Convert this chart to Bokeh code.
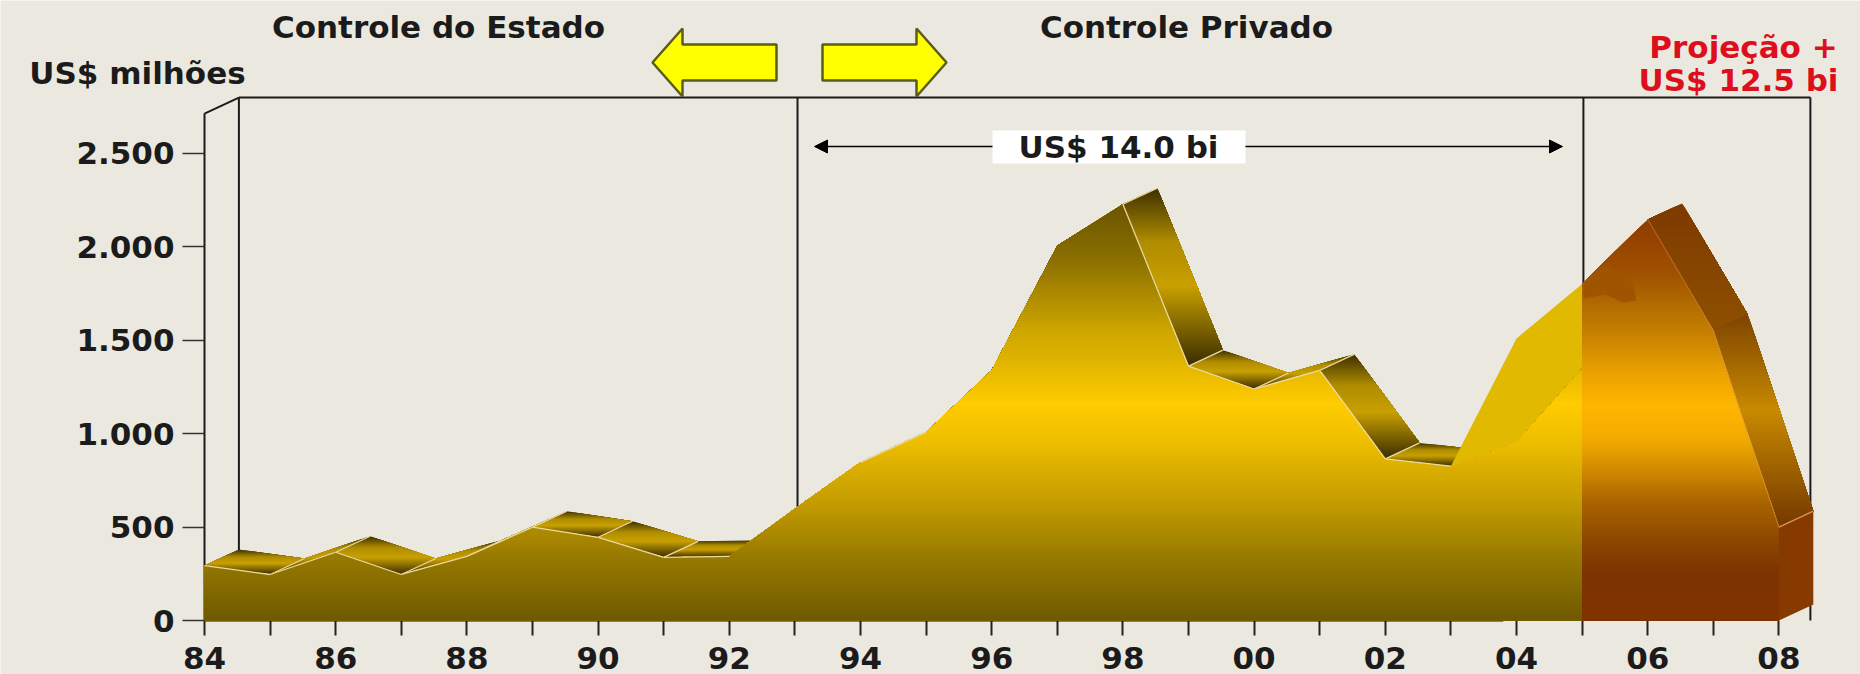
import numpy as np
from bokeh.core.properties import value
from bokeh.embed import file_html
from bokeh.models import Arrow, ColumnDataSource, FixedTicker, NormalHead
from bokeh.plotting import figure
from bokeh.resources import INLINE

# Investment series, US$ millions
state_years = list(range(1984, 2006))
state_values = [294, 246, 365, 246, 343, 499, 445, 338, 343, 597, 846, 1007,
                1338, 2004, 2226, 1360, 1238, 1338, 864, 825, 950, 1347]
upper_years = [2003, 2004, 2005]
upper_values = [825, 1508, 1800]
projection_years = [2005, 2006, 2007, 2008]
projection_values = [1800, 2145, 1551, 499]

y_ticks = [0, 500, 1000, 1500, 2000, 2500]
y_tick_labels = ["0", "500", "1.000", "1.500", "2.000", "2.500"]
x_major_ticks = list(range(1984, 2009, 2))
x_minor_ticks = list(range(1985, 2009, 2))
x_tick_labels = ["84", "86", "88", "90", "92", "94", "96", "98", "00", "02", "04", "06", "08"]
divider_years = [1993.04, 2005.02, 2008.48]

# Pixel scale of the plot area and the extrusion of the 3D ribbon
PX_YEAR, PX_VALUE = 65.6, 0.187
LEFT_PX, BASE_PX = 204, 620
WIDTH, HEIGHT = 1860, 674
DEPTH_X, DEPTH_Y = 34.4 / PX_YEAR, 16 / PX_VALUE
AXIS_TOP = 2711


def xd(px):
    return 1984 + (px - LEFT_PX) / PX_YEAR


def yd(py):
    return (BASE_PX - py) / PX_VALUE


BG = "#ebe9df"
INK = "#1b1b1b"
FONT = "DejaVu Sans"
PALE = "#ead9a0"
PALE_BROWN = "#dc9550"

GOLD_STOPS = ([0, 360, 630, 980, 1157, 1444, 1535, 1925, 2230],
              ["#6f5900", "#9a7c00", "#c49c00", "#f0c000", "#ffcc00", "#d8ae00",
               "#d0a800", "#8c7000", "#6a5400"])
BROWN_STOPS = ([0, 267, 445, 625, 802, 980, 1155, 1337, 1497, 1711, 1855, 2040, 2240],
               ["#7e3300", "#7e3400", "#8e4a00", "#a86200", "#d08a00", "#f4ac00",
                "#ffb400", "#e8a000", "#cc8600", "#ae6800", "#9f5200", "#964200", "#843900"])
FACE_STOPS = ([0, 0.3, 0.55, 1], ["#3e3000", "#b08c00", "#c8a000", "#3a2c00"])
BROWN_FACE_A = ([0, 1], ["#7e3a00", "#8e5000"])
BROWN_FACE_B = ([0, 0.45, 1], ["#7e4400", "#c88a00", "#743800"])


def mix(stops, t):
    pos, cols = stops
    rgb = np.array([[int(c[i:i + 2], 16) for i in (1, 3, 5)] for c in cols], float)
    return "#%02x%02x%02x" % tuple(int(round(np.interp(t, pos, rgb[:, k]))) for k in range(3))


def clip_under(xs, ys, limit):
    """Keep the part of a polygon that lies at or under a given value."""
    out_x, out_y = [], []
    n = len(xs)
    for i in range(n):
        x0, y0, x1, y1 = xs[i], ys[i], xs[(i + 1) % n], ys[(i + 1) % n]
        if y0 <= limit:
            out_x.append(x0)
            out_y.append(y0)
        if (y0 <= limit) != (y1 <= limit):
            f = (limit - y0) / (y1 - y0)
            out_x.append(x0 + f * (x1 - x0))
            out_y.append(limit)
    return out_x, out_y


def shaded(xs, ys, stops, relative=False, step=None):
    """Stack clipped copies of a polygon, top level first, so the fill grades with height."""
    top, bottom = max(ys), min(ys)
    span = top - bottom
    if span <= 0:
        return [], [], []
    count = max(int(span / (step or 16)), 6)
    lx, ly, lc = [], [], []
    for k in range(count):
        upper = top - span * k / count
        mid = top - span * (k + 0.5) / count
        cx, cy = clip_under(xs, ys, upper)
        if len(cx) < 3:
            continue
        lx.append(cx)
        ly.append(cy)
        lc.append(mix(stops, (top - mid) / span if relative else mid))
    return lx, ly, lc


def ribbon_quad(x0, v0, x1, v1):
    return ([x0, x1, x1 + DEPTH_X, x0 + DEPTH_X], [v0, v1, v1 + DEPTH_Y, v0 + DEPTH_Y])


p = figure(width=WIDTH, height=HEIGHT, output_backend="svg", toolbar_location=None,
           x_range=(xd(0), xd(WIDTH)), y_range=(yd(HEIGHT), yd(0)), min_border=0,
           background_fill_color=BG, border_fill_color=BG, outline_line_color=None)
p.grid.visible = False

# Axes sit inside the full-bleed frame, below the filled areas
yaxis = p.yaxis[0]
yaxis.fixed_location = 1984
yaxis.level = "underlay"
yaxis.bounds = (0, AXIS_TOP)
yaxis.ticker = FixedTicker(ticks=y_ticks)
yaxis.major_label_overrides = dict(zip(y_ticks, y_tick_labels))
yaxis.major_tick_out = 22
yaxis.major_tick_in = 0
yaxis.minor_tick_out = 0
yaxis.minor_tick_in = 0
yaxis.major_tick_line_width = 1.3
yaxis.major_tick_line_color = "#333333"
yaxis.axis_line_color = INK
yaxis.axis_line_width = 2
yaxis.major_label_standoff = 8
yaxis.major_label_text_font = FONT
yaxis.major_label_text_font_size = "31px"
yaxis.major_label_text_font_style = "bold"
yaxis.major_label_text_color = INK

xaxis = p.xaxis[0]
xaxis.fixed_location = 0
xaxis.level = "underlay"
xaxis.ticker = FixedTicker(ticks=x_major_ticks, minor_ticks=x_minor_ticks)
xaxis.major_label_overrides = dict(zip(x_major_ticks, x_tick_labels))
xaxis.axis_line_color = None
xaxis.major_tick_out = 15
xaxis.major_tick_in = 0
xaxis.minor_tick_out = 15
xaxis.minor_tick_in = 0
xaxis.major_tick_line_width = 2
xaxis.minor_tick_line_width = 2
xaxis.major_tick_line_color = "#222222"
xaxis.minor_tick_line_color = "#222222"
xaxis.major_label_standoff = 11
xaxis.major_label_text_font = FONT
xaxis.major_label_text_font_size = "31px"
xaxis.major_label_text_font_style = "bold"
xaxis.major_label_text_color = INK

# Back wall of the box and the period dividers
p.segment([1984, 1984 + DEPTH_X, 1984 + DEPTH_X], [AXIS_TOP, AXIS_TOP + DEPTH_Y, AXIS_TOP + DEPTH_Y],
          [1984 + DEPTH_X, divider_years[-1], 1984 + DEPTH_X], [AXIS_TOP + DEPTH_Y, AXIS_TOP + DEPTH_Y, 0],
          line_color=INK, line_width=2)
p.segment(divider_years, [AXIS_TOP + DEPTH_Y] * len(divider_years), divider_years, [0] * len(divider_years),
          line_color=INK, line_width=2)
p.segment([1984], [0], [2003.8], [0], line_color=INK, line_width=2)

# Ribbon faces running back from each segment of the series
face_x, face_y, face_c = [], [], []
for i in range(len(state_years) - 3):
    qx, qy = ribbon_quad(state_years[i], state_values[i], state_years[i + 1], state_values[i + 1])
    lx, ly, lc = shaded(qx, qy, FACE_STOPS, relative=True, step=5)
    face_x += lx
    face_y += ly
    face_c += lc
for i, stops in ((1, BROWN_FACE_A), (2, BROWN_FACE_B)):
    qx, qy = ribbon_quad(projection_years[i], projection_values[i],
                         projection_years[i + 1], projection_values[i + 1])
    lx, ly, lc = shaded(qx, qy, stops, relative=True, step=7)
    face_x += lx
    face_y += ly
    face_c += lc
p.patches("xs", "ys", fill_color="color", line_color=None,
          source=ColumnDataSource(dict(xs=face_x, ys=face_y, color=face_c)))

# Edges where one ribbon face meets the next
edge_x, edge_y = [], []
for yr, val in zip(state_years[1:-2], state_values[1:-2]):
    edge_x.append([yr, yr + DEPTH_X])
    edge_y.append([val, val + DEPTH_Y])
p.multi_line(edge_x, edge_y, line_color=PALE, line_width=1.3)

# Paler band between the two ridges of the last state-run years
band_x = upper_years + state_years[:-3:-1]
band_y = upper_values + state_values[:-3:-1]
p.patch(band_x, band_y, fill_color="#e0b900", line_color=None)

# Front areas, graded by height
front_x = [state_years[0]] + state_years + [state_years[-1]]
front_y = [0] + state_values + [0]
lx, ly, lc = shaded(front_x, front_y, GOLD_STOPS)
p.patches("xs", "ys", fill_color="color", line_color=None,
          source=ColumnDataSource(dict(xs=lx, ys=ly, color=lc)))

proj_x = [projection_years[0]] + projection_years + [projection_years[-1]]
proj_y = [0] + projection_values + [0]
lx, ly, lc = shaded(proj_x, proj_y, BROWN_STOPS)
p.patches("xs", "ys", fill_color="color", line_color=None,
          source=ColumnDataSource(dict(xs=lx, ys=ly, color=lc)))

# Darker patch on the projected rise
p.patch([xd(1583), xd(1583), xd(1605), xd(1622), xd(1636), xd(1632), xd(1605)],
        [yd(285), yd(298), yd(294), yd(302), yd(300), yd(282), yd(265)],
        fill_color="#a05400", line_color=None)

# End wall closing the ribbon on the right
end_x = [2008, 2008, 2008 + DEPTH_X, 2008 + DEPTH_X]
end_y = [0, projection_values[-1], projection_values[-1] + DEPTH_Y, DEPTH_Y]
p.patch(end_x, end_y, fill_color="#873a00", line_color=None)
p.line(end_x[1:3], end_y[1:3], line_color=PALE_BROWN, line_width=1.3)

# Highlight along the front ridge wherever the ribbon face shows above it
for i in range(len(state_years) - 3):
    rise = state_values[i + 1] - state_values[i]
    if rise < DEPTH_Y / DEPTH_X:
        p.line(state_years[i:i + 2], state_values[i:i + 2], line_color=PALE, line_width=1.3)
p.line(projection_years[1:3], projection_values[1:3], line_color=PALE_BROWN, line_width=1.2, line_alpha=0.4)
p.line(projection_years[2:], projection_values[2:], line_color=PALE_BROWN, line_width=1.2, line_alpha=0.5)

# Period arrows
p.patch([xd(v) for v in (776, 682, 682, 652, 682, 682, 776)],
        [yd(v) for v in (44, 44, 28, 62, 96, 80, 80)],
        fill_color="#ffff00", line_color="#5c5c1a", line_width=2.5)
p.patch([xd(v) for v in (822, 916, 916, 946, 916, 916, 822)],
        [yd(v) for v in (44, 44, 28, 62, 96, 80, 80)],
        fill_color="#ffff00", line_color="#5c5c1a", line_width=2.5)

# Span arrow and its label box
p.quad(left=[xd(992)], right=[xd(1245)], bottom=[yd(163)], top=[yd(130)], fill_color="#ffffff", line_color=None)
p.add_layout(Arrow(end=NormalHead(size=13, fill_color="black", line_color="black"),
                   x_start=xd(992), y_start=yd(146), x_end=xd(814), y_end=yd(146),
                   line_color="black", line_width=1.6))
p.add_layout(Arrow(end=NormalHead(size=13, fill_color="black", line_color="black"),
                   x_start=xd(1245), y_start=yd(146), x_end=xd(1562), y_end=yd(146),
                   line_color="black", line_width=1.6))


def label(text, cx, cy, color=INK):
    p.text([xd(cx)], [yd(cy)], text=[text], text_align="center", text_baseline="middle",
           text_font=value(FONT), text_font_size="31px", text_font_style="bold", text_color=color)


label("Controle do Estado", 438, 26)
label("Controle Privado", 1186, 26)
label("US$ milhões", 137, 72)
label("US$ 14.0 bi", 1118, 146)
label("Projeção +", 1743, 46, "#dd0f1c")
label("US$ 12.5 bi", 1738, 79, "#dd0f1c")

open("out.html", "w").write(file_html(p, INLINE))
